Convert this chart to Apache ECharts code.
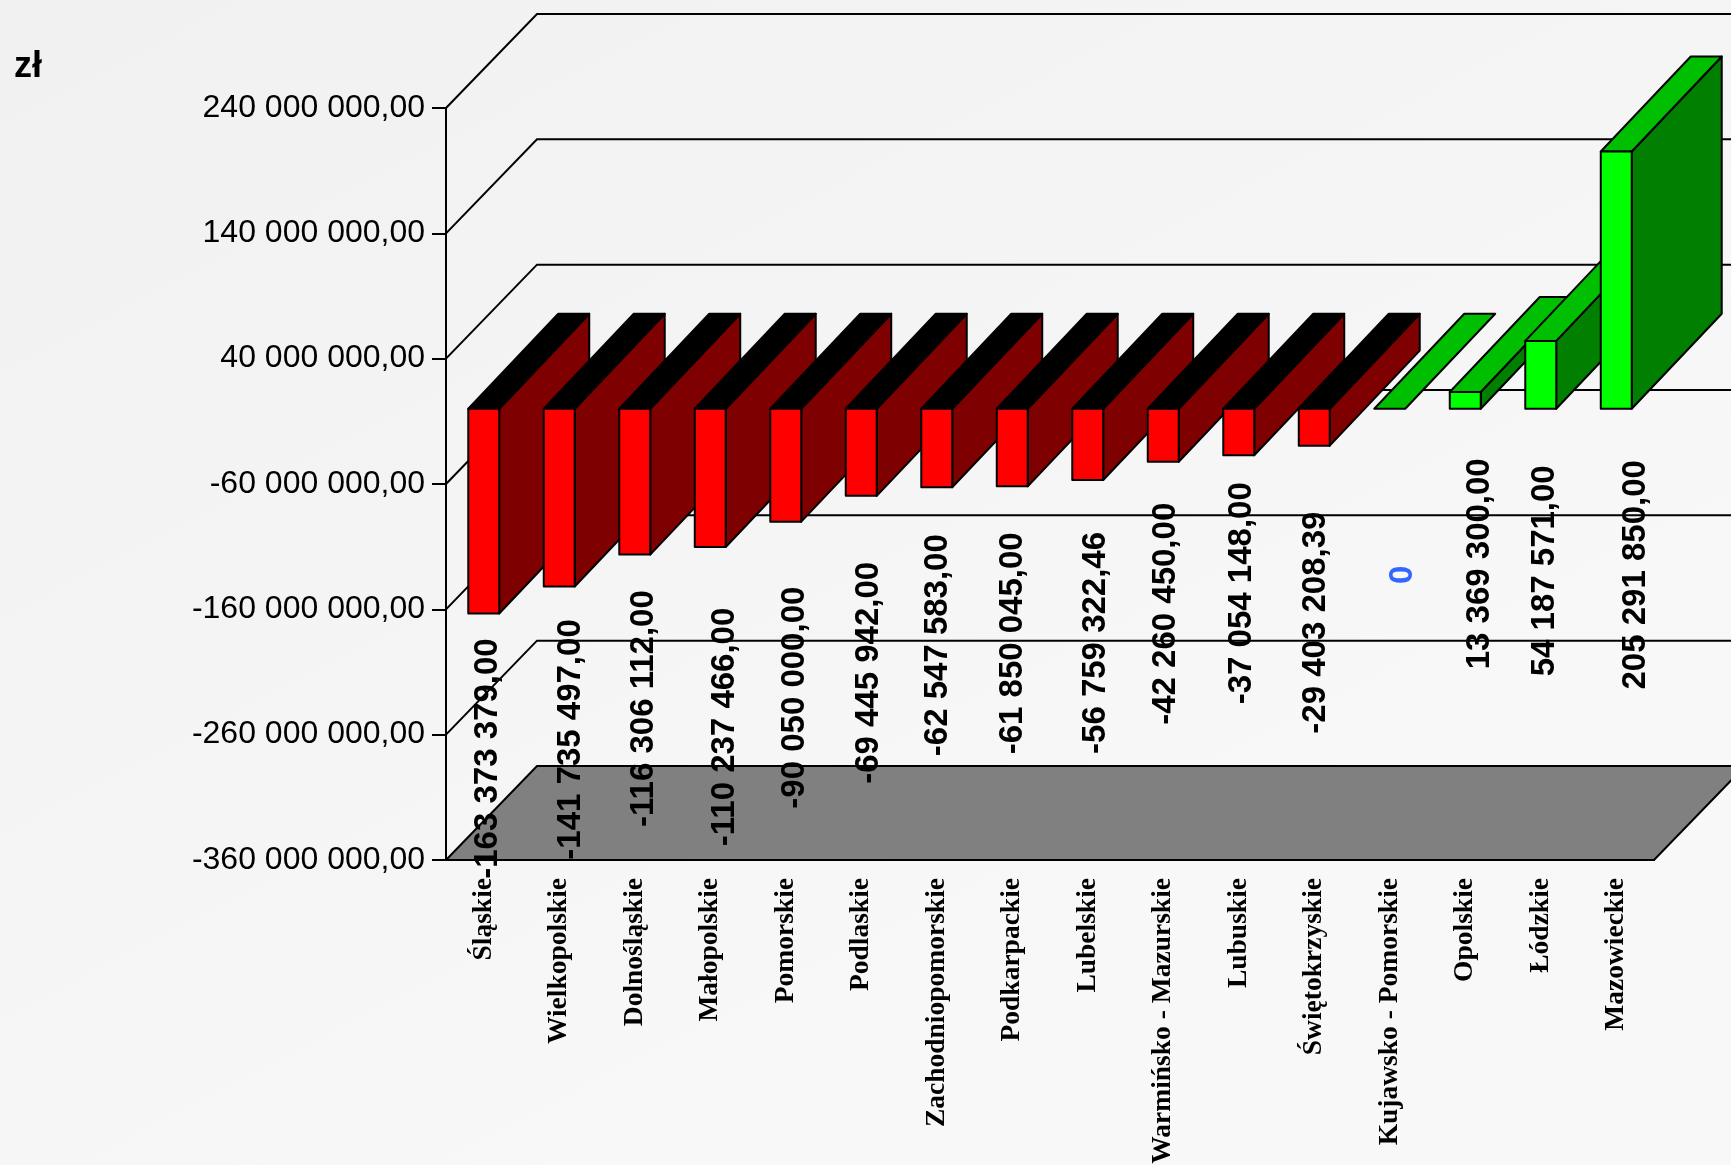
<!DOCTYPE html>
<html>
<head>
<meta charset="utf-8">
<style>html,body{margin:0;padding:0;background:#f4f4f4}#c{width:1731px;height:1165px}</style>
<script src="https://cdn.jsdelivr.net/npm/echarts@6/dist/echarts.min.js"></script>
</head>
<body>
<div id="c"></div>
<script>
var categories = ['Śląskie','Wielkopolskie','Dolnośląskie','Małopolskie','Pomorskie','Podlaskie','Zachodniopomorskie','Podkarpackie','Lubelskie','Warmińsko - Mazurskie','Lubuskie','Świętokrzyskie','Kujawsko - Pomorskie','Opolskie','Łódzkie','Mazowieckie'];
var values = [-163373379,-141735497,-116306112,-110237466,-90050000,-69445942,-62547583,-61850045,-56759322.46,-42260450,-37054148,-29403208.39,0,13369300,54187571,205291850];
var yTicks = [-360000000,-260000000,-160000000,-60000000,40000000,140000000,240000000];
var unitLabel = 'zł';

// layout of the pseudo-3D drawing, in pixels
var wallDx = 91, wallDy = 94;
var barDx = 90, barDy = 95;
var labelShiftX = [4,12,9,15,9,8,1,1,8,3,3,2,13,15,4,20];
var labelShiftY = [145,153,154,180,176,177,158,157,163,152,138,177,166,155,162,166];

function fmt(v){
  if(v===0) return '0';
  var neg = v<0, s = Math.abs(v).toFixed(2).split('.');
  return (neg?'-':'')+s[0].replace(/\B(?=(\d{3})+(?!\d))/g,' ')+','+s[1];
}
var LW = 2, K = '#000000';

function wallItem(params, api){
  var v = api.value(0);
  var a = api.coord([0, v]);
  var size = api.size([1,0])[0];
  var x0 = a[0]-size/2, y = a[1];
  var x1 = x0 + size*categories.length;
  var pts = [[x0,y],[x0+wallDx,y-wallDy],[x1+wallDx,y-wallDy]];
  if(v===yTicks[0]){
    return {type:'polygon',shape:{points:[[x0,y],[x0+wallDx,y-wallDy],[x1+wallDx,y-wallDy],[x1,y]]},
      style:{fill:'#808080',stroke:K,lineWidth:LW}};
  }
  return {type:'polyline',shape:{points:pts},style:{fill:null,stroke:K,lineWidth:LW}};
}
function poly(points, fill){
  return {type:'polygon',shape:{points:points},style:{fill:fill,stroke:K,lineWidth:LW,lineJoin:'round'}};
}
function barItem(params, api){
  var i = api.value(0), v = api.value(1);
  var base = api.coord([i,0]), end = api.coord([i,v]);
  var w = api.size([1,0])[0]*0.41;
  var l = base[0]-w/2, r = base[0]+w/2;
  var yTop = Math.min(base[1],end[1]), yBot = Math.max(base[1],end[1]);
  var pos = v>=0;
  var cFront = pos?'#00ff00':'#ff0000', cSide = pos?'#007f00':'#7f0000', cTop = pos?'#00bf00':'#000000';
  var kids = [];
  if(yBot>yTop) kids.push(poly([[r,yTop],[r+barDx,yTop-barDy],[r+barDx,yBot-barDy],[r,yBot]],cSide));
  kids.push(poly([[l,yTop],[l+barDx,yTop-barDy],[r+barDx,yTop-barDy],[r,yTop]],cTop));
  if(yBot>yTop) kids.push(poly([[l,yTop],[r,yTop],[r,yBot],[l,yBot]],cFront));
  return {type:'group',children:kids};
}
function labelItem(params, api){
  var i = api.value(0), v = api.value(1);
  var p = api.coord([i, Math.min(v,0)]);
  return {type:'text',x:p[0]+labelShiftX[i],y:p[1]+labelShiftY[i],rotation:Math.PI/2,
    style:{text:fmt(v),align:'center',verticalAlign:'middle',
      fill:v===0?'#3366ff':'#000000',
      font:'bold 33px "Liberation Sans", Arial, sans-serif'}};
}
var chart = echarts.init(document.getElementById('c'),null,{renderer:'canvas'});
var barData = values.map(function(v,i){return [i,v];});
chart.setOption({
  animation:false,
  backgroundColor:{type:'linear',x:0,y:0,x2:0.35,y2:1,colorStops:[{offset:0,color:'#f1f1f1'},{offset:0.5,color:'#f4f4f4'},{offset:1,color:'#f8f8f8'}]},
  title:{text:unitLabel,left:9,top:44,textStyle:{fontFamily:'"Liberation Sans", Arial, sans-serif',fontWeight:'bold',fontSize:36,color:'#000'}},
  grid:{left:446,top:108,width:1208,height:752,containLabel:false,outerBoundsMode:'none'},
  xAxis:{type:'category',data:categories,
    axisLine:{show:true,onZero:false,lineStyle:{color:K,width:LW}},
    axisTick:{show:false},
    axisLabel:{interval:0,rotate:90,margin:18,padding:[6,0,0,0],color:'#000',fontFamily:'"Liberation Serif", "Times New Roman", serif',fontWeight:'bold',fontSize:27.5,hideOverlap:false}},
  yAxis:{type:'value',min:yTicks[0],max:yTicks[yTicks.length-1],
    axisLine:{show:true,onZero:false,lineStyle:{color:K,width:LW}},
    axisTick:{show:true,length:14,customValues:yTicks,lineStyle:{color:K,width:LW}},
    axisLabel:{customValues:yTicks,margin:21,padding:[4,0,0,0],color:'#000',fontFamily:'"Liberation Sans", Arial, sans-serif',fontSize:32,formatter:function(v){return fmt(v);}},
    splitLine:{show:false}},
  series:[
    {type:'custom',name:'walls',coordinateSystem:'cartesian2d',renderItem:wallItem,data:yTicks.map(function(t){return [t];}),encode:{y:0},silent:true,z:2},
    {type:'custom',name:'bars',coordinateSystem:'cartesian2d',renderItem:barItem,data:barData,encode:{x:0,y:1},z:3},
    {type:'custom',name:'labels',coordinateSystem:'cartesian2d',renderItem:labelItem,data:barData,encode:{x:0,y:1},z:4}
  ]
});
</script>
</body>
</html>
